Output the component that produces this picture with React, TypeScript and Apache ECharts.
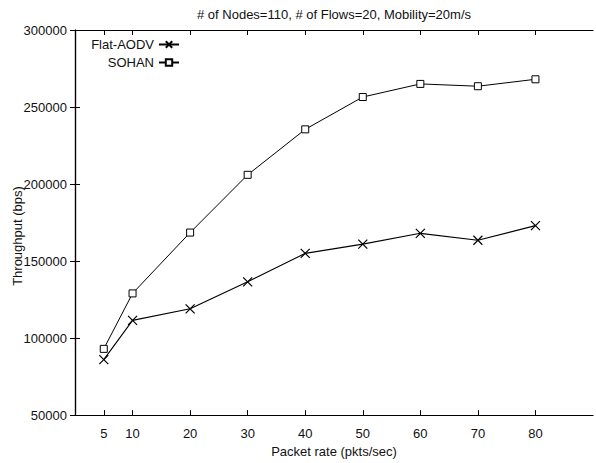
import React, { useEffect, useRef } from "react";
import * as echarts from "echarts";

const packetRates = [5, 10, 20, 30, 40, 50, 60, 70, 80];
const flatAodv = [86000, 111500, 119000, 136500, 155000, 161000, 168000, 163500, 173000];
const sohan = [93000, 129000, 168500, 206000, 235500, 256500, 265000, 263500, 268000];
const xTicks = [5, 10, 20, 30, 40, 50, 60, 70, 80];
const titleText = "# of Nodes=110, # of Flows=20, Mobility=20m/s";
const xName = "Packet rate (pkts/sec)";
const yName = "Throughput (bps)";

const FONT = "'Liberation Sans', Arial, Helvetica, sans-serif";
const INK = "#111";

export default function App() {
  const ref = useRef<HTMLDivElement>(null);
  useEffect(() => {
    if (!ref.current) return;
    const chart = echarts.init(ref.current, null, { renderer: "svg" });
    const axisLine = { show: true, lineStyle: { color: "#000", width: 1.2 } };
    const tickStyle = { show: true, inside: true, length: 5, lineStyle: { color: "#000", width: 1 } };
    const legendText = { fontSize: 13, color: INK, fontFamily: FONT };
    chart.setOption({
      animation: false,
      backgroundColor: "#fff",
      textStyle: { fontFamily: FONT },
      title: {
        text: titleText,
        left: 334,
        textAlign: "center",
        top: 8,
        padding: 0,
        textStyle: { fontSize: 13, fontWeight: "normal", color: INK, fontFamily: FONT },
      },
      grid: { left: 75, right: 3, top: 30, bottom: 47, containLabel: false },
      legend: [
        {
          data: ["Flat-AODV"],
          right: 416,
          top: 38,
          padding: 0,
          align: "right",
          itemWidth: 20,
          itemHeight: 8,
          itemGap: 4,
          textStyle: legendText,
        },
        {
          data: ["SOHAN"],
          right: 416,
          top: 56,
          padding: 0,
          align: "right",
          itemWidth: 20,
          itemHeight: 8,
          itemGap: 4,
          textStyle: legendText,
        },
      ],
      xAxis: [
        {
          type: "value",
          min: 0,
          max: 90,
          position: "bottom",
          axisLine,
          axisTick: { ...tickStyle, customValues: xTicks },
          axisLabel: { customValues: xTicks, fontSize: 13, color: INK, margin: 12, fontFamily: FONT },
          splitLine: { show: false },
          name: xName,
          nameLocation: "middle",
          nameGap: 29,
          nameTextStyle: { fontSize: 13, color: INK, fontFamily: FONT },
        },
        {
          type: "value",
          min: 0,
          max: 90,
          position: "top",
          axisLine,
          axisTick: { ...tickStyle, customValues: xTicks },
          axisLabel: { show: false },
          splitLine: { show: false },
        },
      ],
      yAxis: [
        {
          type: "value",
          min: 50000,
          max: 300000,
          interval: 50000,
          position: "left",
          axisLine,
          axisTick: tickStyle,
          axisLabel: {
            fontSize: 13,
            color: INK,
            margin: 8,
            fontFamily: FONT,
            formatter: (v: number) => String(v),
          },
          splitLine: { show: false },
        },
        {
          type: "value",
          min: 50000,
          max: 300000,
          interval: 50000,
          position: "right",
          axisLine,
          axisTick: tickStyle,
          axisLabel: { show: false },
          splitLine: { show: false },
        },
      ],
      graphic: [
        {
          type: "text",
          x: 17,
          y: 236,
          rotation: Math.PI / 2,
          style: {
            text: yName,
            fontSize: 13,
            fontFamily: FONT,
            fill: INK,
            align: "center",
            verticalAlign: "middle",
          },
        },
      ],
      series: [
        {
          name: "Flat-AODV",
          type: "line",
          xAxisIndex: 0,
          yAxisIndex: 0,
          data: packetRates.map((x, i) => [x, flatAodv[i]]),
          symbol: "path://M0,0L10,10M10,0L0,10",
          symbolSize: 9,
          showSymbol: true,
          lineStyle: { color: "#000", width: 1.1 },
          itemStyle: { color: "#000", borderColor: "#000", borderWidth: 1.2 },
        },
        {
          name: "SOHAN",
          type: "line",
          xAxisIndex: 0,
          yAxisIndex: 0,
          data: packetRates.map((x, i) => [x, sohan[i]]),
          symbol: "rect",
          symbolSize: 7,
          showSymbol: true,
          lineStyle: { color: "#000", width: 1 },
          itemStyle: { color: "#fff", borderColor: "#000", borderWidth: 1 },
        },
      ],
    });
    return () => chart.dispose();
  }, []);
  return (
    <div
      ref={ref}
      style={{ position: "fixed", left: 0, top: 0, width: 596, height: 463, background: "#fff" }}
    />
  );
}
